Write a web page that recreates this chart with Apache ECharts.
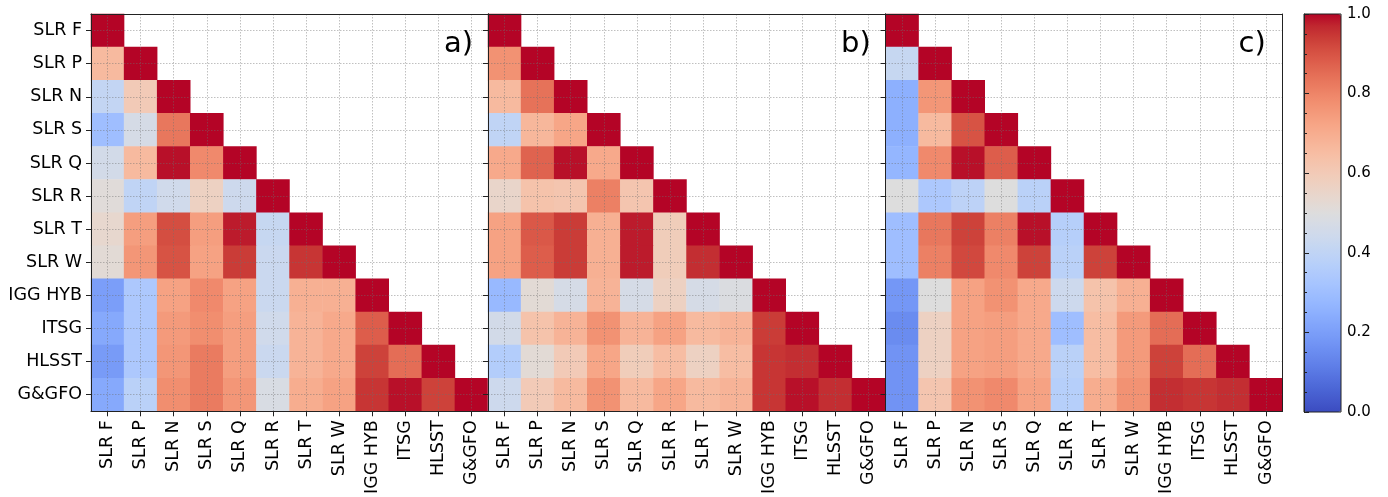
<!DOCTYPE html>
<html>
<head>
<meta charset="utf-8">
<script src="https://cdn.jsdelivr.net/npm/echarts@6/dist/echarts.min.js"></script>
<style>html,body{margin:0;padding:0;background:#fff;}#c{width:1388px;height:497px;}</style>
</head>
<body>
<div id="c"></div>
<script>
// ---- data ----
const categories = ['SLR F','SLR P','SLR N','SLR S','SLR Q','SLR R','SLR T','SLR W','IGG HYB','ITSG','HLSST','G&GFO'];
const panelLabels = ['a)','b)','c)'];
// lower-triangular correlation rows (row i has i+1 values, diagonal = 1)
const panelA = [
  [1],
  [0.66, 1],
  [0.41, 0.60, 1],
  [0.30, 0.47, 0.83, 1],
  [0.46, 0.66, 0.99, 0.79, 1],
  [0.51, 0.40, 0.45, 0.57, 0.44, 1],
  [0.54, 0.74, 0.91, 0.74, 0.98, 0.42, 1],
  [0.52, 0.76, 0.90, 0.73, 0.94, 0.43, 0.95, 1],
  [0.20, 0.34, 0.73, 0.79, 0.73, 0.43, 0.69, 0.69, 1],
  [0.23, 0.34, 0.75, 0.78, 0.74, 0.45, 0.68, 0.71, 0.88, 1],
  [0.19, 0.34, 0.76, 0.82, 0.74, 0.43, 0.68, 0.71, 0.93, 0.85, 1],
  [0.23, 0.38, 0.78, 0.82, 0.76, 0.48, 0.70, 0.73, 0.95, 0.99, 0.93, 1]
];
const panelB = [
  [1],
  [0.77, 1],
  [0.66, 0.84, 1],
  [0.40, 0.67, 0.72, 1],
  [0.71, 0.87, 0.99, 0.71, 1],
  [0.55, 0.63, 0.62, 0.81, 0.62, 1],
  [0.73, 0.89, 0.94, 0.69, 0.98, 0.59, 1],
  [0.73, 0.88, 0.94, 0.69, 0.98, 0.59, 0.96, 1],
  [0.28, 0.52, 0.47, 0.68, 0.47, 0.57, 0.47, 0.49, 1],
  [0.46, 0.63, 0.68, 0.77, 0.68, 0.73, 0.66, 0.68, 0.94, 1],
  [0.36, 0.52, 0.60, 0.72, 0.59, 0.65, 0.57, 0.65, 0.95, 0.96, 1],
  [0.44, 0.60, 0.66, 0.77, 0.66, 0.72, 0.66, 0.68, 0.95, 0.99, 0.96, 1]
];
const panelC = [
  [1],
  [0.42, 1],
  [0.25, 0.76, 1],
  [0.25, 0.66, 0.90, 1],
  [0.27, 0.79, 0.99, 0.88, 1],
  [0.50, 0.34, 0.39, 0.50, 0.38, 1],
  [0.30, 0.83, 0.93, 0.81, 0.99, 0.37, 1],
  [0.30, 0.81, 0.92, 0.79, 0.93, 0.38, 0.93, 1],
  [0.18, 0.50, 0.73, 0.77, 0.71, 0.44, 0.63, 0.69, 1],
  [0.15, 0.57, 0.73, 0.74, 0.71, 0.30, 0.65, 0.75, 0.85, 1],
  [0.17, 0.57, 0.73, 0.74, 0.71, 0.38, 0.65, 0.75, 0.93, 0.85, 1],
  [0.17, 0.62, 0.77, 0.79, 0.73, 0.37, 0.70, 0.77, 0.96, 0.95, 0.96, 1]
];
const colorbarTicks = [0, 0.2, 0.4, 0.6, 0.8, 1.0];
// matplotlib "coolwarm" (Moreland) colour stops
const coolwarm = ['#3b4cc0','#445acc','#4d68d7','#5775e1','#6282ea','#6c8ef1','#779af7','#82a5fb','#8db0fe','#98b9ff','#a3c2ff','#aec9fd','#b8d0f9','#c2d5f4','#ccd9ee','#d5dbe6','#dddddd','#e5d8d1','#ecd3c5','#f1ccb9','#f5c4ad','#f7bba0','#f7b194','#f7a687','#f49a7b','#f18d6f','#ec7f63','#e57058','#de604d','#d55042','#cb3e38','#c0282f','#b40426'];

// ---- layout ----
const panels = [panelA, panelB, panelC];
const gridLefts = [91, 488, 885.5];
const gridW = 397, gridTop = 14, gridH = 398;
const FONT = 'DejaVu Sans';
const LABEL_SIZE = 17.5;
const lineCol = '#222';
const gridLine = {color: 'rgba(110,110,110,0.55)', type: [1.5, 1.5], width: 0.8};

const grids = [], xAxes = [], yAxes = [], series = [], graphics = [];
panels.forEach((rows, p) => {
  grids.push({left: gridLefts[p], top: gridTop, width: gridW, height: gridH});
  const data = [];
  rows.forEach((row, i) => row.forEach((v, j) => data.push([j, i, v])));
  // bottom x axis
  xAxes.push({
    type: 'category', data: categories, gridIndex: p, position: 'bottom', z: 10,
    axisLine: {show: true, onZero: false, lineStyle: {color: lineCol, width: 1}},
    axisTick: {show: true, alignWithLabel: true, length: 5, lineStyle: {color: lineCol}},
    axisLabel: {rotate: 90, fontSize: LABEL_SIZE, fontFamily: FONT, color: '#000', margin: 9, interval: 0},
    splitLine: {show: true, alignWithLabel: true, lineStyle: gridLine}
  });
  // top frame
  xAxes.push({
    type: 'category', data: categories, gridIndex: p, position: 'top', z: 10,
    axisLine: {show: true, onZero: false, lineStyle: {color: lineCol, width: 1}},
    axisTick: {show: false}, axisLabel: {show: false}, splitLine: {show: false}
  });
  yAxes.push({
    type: 'category', data: categories, gridIndex: p, inverse: true, position: 'left', z: 10,
    axisLine: {show: true, onZero: false, lineStyle: {color: lineCol, width: 1}},
    axisTick: {show: true, alignWithLabel: true, length: 5, lineStyle: {color: lineCol}},
    axisLabel: {show: p === 0, fontSize: LABEL_SIZE, fontFamily: FONT, color: '#000', margin: 9, interval: 0},
    splitLine: {show: true, alignWithLabel: true, lineStyle: gridLine}
  });
  yAxes.push({
    type: 'category', data: categories, gridIndex: p, inverse: true, position: 'right', z: 10,
    axisLine: {show: true, onZero: false, lineStyle: {color: lineCol, width: 1}},
    axisTick: {show: false}, axisLabel: {show: false}, splitLine: {show: false}
  });
  series.push({
    type: 'heatmap', xAxisIndex: 2 * p, yAxisIndex: 2 * p, data: data, z: 2,
    emphasis: {disabled: true}, progressive: 0, animation: false
  });
  graphics.push({
    type: 'text', x: gridLefts[p] + 353, y: 44, z: 20,
    style: {text: panelLabels[p], font: '29px "' + FONT + '"', fill: '#000', textAlign: 'left', textVerticalAlign: 'middle'}
  });
});

// colorbar axis grid
grids.push({left: 1304, top: gridTop, width: 37, height: gridH, show: true, borderColor: lineCol, borderWidth: 1, z: 10, backgroundColor: 'transparent'});
xAxes.push({type: 'value', gridIndex: 3, show: false, min: 0, max: 1});
yAxes.push({
  type: 'value', gridIndex: 3, position: 'right', min: 0, max: 1, interval: 0.2, z: 10,
  axisLine: {show: true, lineStyle: {color: lineCol, width: 1}},
  axisTick: {show: true, length: 5, lineStyle: {color: lineCol}},
  minorTick: {show: true, splitNumber: 4, length: 3, lineStyle: {color: lineCol}},
  axisLabel: {fontSize: 15, fontFamily: FONT, color: '#000', margin: 6,
    customValues: colorbarTicks, formatter: v => v.toFixed(1)},
  splitLine: {show: false}
});

const chart = echarts.init(document.getElementById('c'), null, {renderer: 'canvas'});
chart.setOption({
  animation: false,
  backgroundColor: '#fff',
  grid: grids,
  xAxis: xAxes,
  yAxis: yAxes,
  visualMap: {
    type: 'continuous', min: 0, max: 1, seriesIndex: [0, 1, 2],
    left: 1304, top: gridTop, itemWidth: 37, itemHeight: gridH, padding: 0,
    calculable: false, text: null, showLabel: false, hoverLink: false,
    inRange: {color: coolwarm}
  },
  series: series,
  graphic: graphics
});
</script>
</body>
</html>
